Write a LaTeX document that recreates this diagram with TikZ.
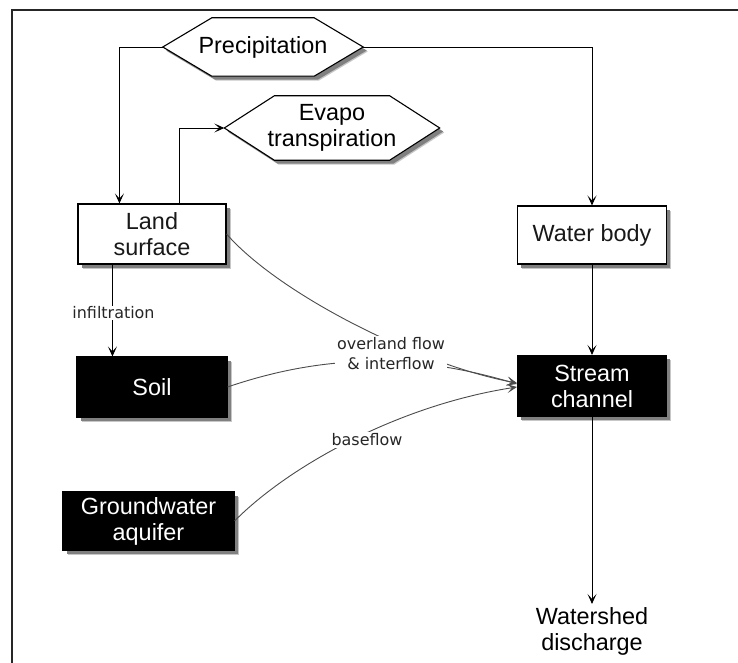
\documentclass[tikz,border=0pt]{standalone}
\usepackage{fontspec}
\setmainfont{Liberation Sans}
\newfontfamily\lblfont{DejaVu Sans}
\usetikzlibrary{arrows.meta,calc,shadows,backgrounds}

\tikzset{
  dropshadow/.style={
      general shadow={shadow xshift=4.5bp, shadow yshift=-4.5bp, fill=black!22},
      general shadow={shadow xshift=3.5bp, shadow yshift=-3.5bp, fill=black!50}},
  boxtext/.style={font=\fontsize{23.5}{26}\selectfont, align=center, inner sep=0pt},
  whitebox/.style={boxtext, draw=black, line width=1.1bp, fill=white,
      text=black!90, dropshadow},
  blackbox/.style={boxtext, draw=black, line width=1.1bp, fill=black,
      text=white, dropshadow},
  hexshape/.style={draw=black, line width=1.1bp, fill=white, dropshadow},
  flow/.style={line width=0.9bp, -{Stealth[length=10bp,width=9bp,inset=5bp]}},
  curveflow/.style={flow, draw=black!70},
  flowlabel/.style={font=\lblfont\fontsize{16}{20}\selectfont, fill=white,
      align=center, inner sep=2bp, text=black!85},
}

\begin{document}
\begin{tikzpicture}[x=1bp, y=-1bp]
  \useasboundingbox (0,0) rectangle (738,663);

  % hexagonal source / sink nodes (text first, outline behind it)
  \node[boxtext, minimum width=200bp, minimum height=58bp] (prec) at (263,47) {Precipitation};
  \node[boxtext, minimum width=215bp, minimum height=64bp] (evapo) at (332,128) {Evapo\\transpiration};
  \begin{scope}[on background layer]
    \fill[white] (0,0) rectangle (738,663);
    \path[hexshape] (prec.west) -- ([xshift=49bp]prec.north west)
      -- ([xshift=-49bp]prec.north east) -- (prec.east)
      -- ([xshift=-49bp]prec.south east) -- ([xshift=49bp]prec.south west) -- cycle;
    \path[hexshape] (evapo.west) -- ([xshift=50bp]evapo.north west)
      -- ([xshift=-50bp]evapo.north east) -- (evapo.east)
      -- ([xshift=-50bp]evapo.south east) -- ([xshift=50bp]evapo.south west) -- cycle;
  \end{scope}

  % frame
  \draw[line width=2.5bp, black!85] (12,663) -- (12,10) -- (738,10);

  % storage boxes
  \node[whitebox, minimum width=148bp, minimum height=60bp] (land) at (152,234) {Land\\surface};
  \node[whitebox, minimum width=149bp, minimum height=58bp] (water) at (592,235) {Water body};
  \node[blackbox, minimum width=150bp, minimum height=60bp] (soil) at (152,387) {Soil};
  \node[blackbox, minimum width=149bp, minimum height=61bp] (stream) at (592,386) {Stream\\channel};
  \node[blackbox, minimum width=171bp, minimum height=58bp] (gw) at (148.5,521) {Groundwater\\aquifer};
  \node[boxtext, inner sep=3bp] (out) at (592,631) {Watershed\\discharge};

  % straight connectors
  \draw[flow] (prec.west) -| ($(land.north west)+(42,0)$);
  \draw[flow] (prec.east) -| (water.north);
  \draw[flow] ($(land.north west)+(102,0)$) |- (evapo.west);
  \draw[flow] ($(land.south west)+(35,0)$) -- ($(soil.north west)+(36,0)$);
  \draw[flow] (water.south) -- (stream.north);
  \draw[flow] (stream.south) -- (out.north);

  % curved flows into the channel
  \draw[curveflow] (land.east) .. controls (280,295) and (420,365) .. ([yshift=3bp]stream.west);
  \draw[curveflow] (soil.east) .. controls (330,352) and (420,355) .. ([yshift=2bp]stream.west);
  \draw[curveflow] (gw.east) .. controls (290,465) and (400,405) .. ([yshift=-1bp]stream.west);

  % flow labels
  \node[flowlabel, inner sep=1bp] (infl) at (113.5,313) {infiltration};
  \node[flowlabel] (ovl) at (391,354) {overland flow\\\& interflow};
  \node[flowlabel] (base) at (367,440) {baseflow};
\end{tikzpicture}
\end{document}
